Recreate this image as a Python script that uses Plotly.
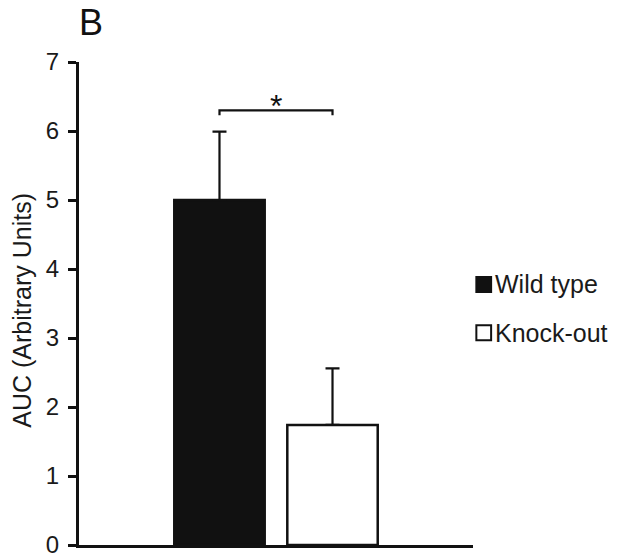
import plotly.graph_objects as go

# Group means and standard errors (AUC, arbitrary units)
groups = ["Wild type", "Knock-out"]
means = [5.0, 1.74]
errors = [0.99, 0.82]
fills = ["#111111", "#ffffff"]
sig_level = 6.3
sig_text = "*"
y_ticks = [0, 1, 2, 3, 4, 5, 6, 7]
y_title = "AUC (Arbitrary Units)"

INK = "#111111"
TEXT = "#1a1a1a"
FONT = "Liberation Sans, Arial, sans-serif"

fig = go.Figure()
for i, (name, m, e, c) in enumerate(zip(groups, means, errors, fills)):
    fig.add_trace(go.Bar(
        x=[i], y=[m], name=name, width=0.8,
        marker=dict(color=c, line=dict(color=INK, width=2.5)),
        error_y=dict(type="data", array=[e], arrayminus=[0], symmetric=False,
                     color=INK, thickness=2.2, width=7),
        showlegend=False,
    ))

# significance bracket between the two bars
tick = 0.07
fig.add_shape(type="path", xref="x", yref="y",
              path=f"M 0,{sig_level - tick} L 0,{sig_level} L 1,{sig_level} L 1,{sig_level - tick}",
              line=dict(color=INK, width=2.2))
fig.add_annotation(x=0.5, y=sig_level, xref="x", yref="y", text=sig_text,
                   showarrow=False, yanchor="bottom", yshift=-16,
                   font=dict(family=FONT, size=32, color=INK))

# legend keys drawn beside the plot area
key_rows = [0.5395, 0.4395]
for name, c, yc in zip(groups, fills, key_rows):
    fig.add_shape(type="rect", xref="paper", yref="paper",
                  x0=1.0085, x1=1.046, y0=yc - 0.0155, y1=yc + 0.0155,
                  fillcolor=c, line=dict(color=INK, width=2))
    fig.add_annotation(x=1.052, y=yc, xref="paper", yref="paper", text=name,
                       showarrow=False, xanchor="left", yanchor="middle",
                       font=dict(family=FONT, size=25, color=TEXT))

# vertical axis title
fig.add_annotation(x=0, y=0.485, xref="paper", yref="paper", text=y_title,
                   showarrow=False, textangle=-90, xanchor="center",
                   yanchor="middle", xshift=-57,
                   font=dict(family=FONT, size=25, color=TEXT))

# panel letter
fig.add_annotation(x=0.0, y=1.0, xref="paper", yref="paper", text="B",
                   showarrow=False, xanchor="left", yanchor="top",
                   xshift=-2, yshift=62,
                   font=dict(family=FONT, size=36, color=INK))

fig.update_layout(
    width=623, height=559,
    margin=dict(l=79, r=150, t=62, b=14),
    paper_bgcolor="white", plot_bgcolor="white",
    font=dict(family=FONT, color=TEXT),
    xaxis=dict(range=[-1.243, 2.243], showticklabels=False, ticks="",
               showgrid=False, zeroline=False, showline=True,
               linecolor=INK, linewidth=3, automargin=False),
    yaxis=dict(range=[0, 7], tickvals=y_ticks, ticks="outside", ticklen=8,
               tickwidth=3, tickcolor=INK, showgrid=False, zeroline=False,
               showline=True, linecolor=INK, linewidth=3, automargin=False,
               ticklabelstandoff=4,
               tickfont=dict(family=FONT, size=24, color=TEXT)),
)

fig.write_html("out.html")
